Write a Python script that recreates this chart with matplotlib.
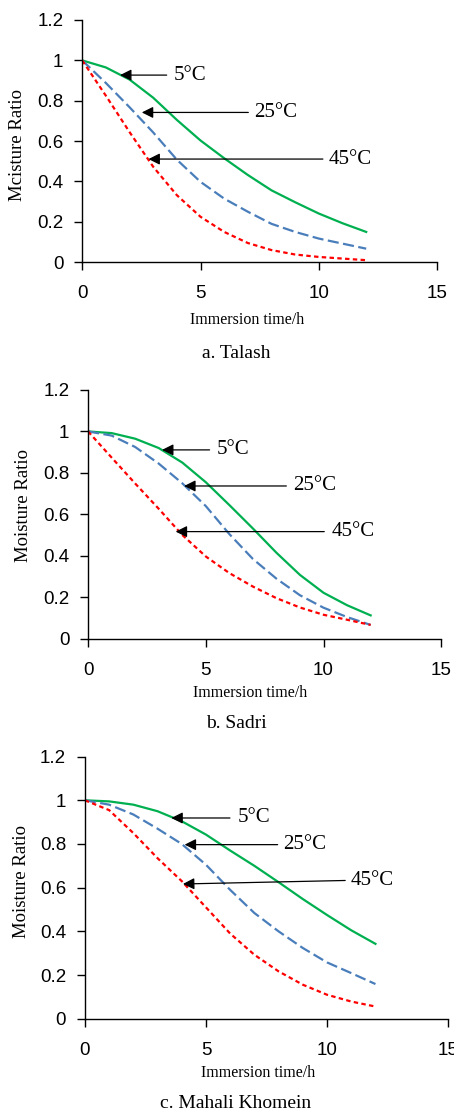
import matplotlib
matplotlib.use('Agg')
import matplotlib.pyplot as plt

# immersion time (h)
hours = [0, 1, 2, 3, 4, 5, 6, 7, 8, 9, 10, 11, 12]

# a. Talash
talash_5 = [1.0, 0.965, 0.905, 0.815, 0.705, 0.603, 0.515, 0.432, 0.356, 0.297, 0.241, 0.193, 0.15]
talash_25 = [1.0, 0.888, 0.768, 0.643, 0.508, 0.398, 0.315, 0.25, 0.19, 0.15, 0.117, 0.092, 0.067]
talash_45 = [1.0, 0.825, 0.645, 0.473, 0.332, 0.225, 0.15, 0.095, 0.06, 0.038, 0.026, 0.018, 0.01]

# b. Sadri
sadri_5 = [1.0, 0.992, 0.965, 0.92, 0.85, 0.755, 0.645, 0.532, 0.415, 0.308, 0.222, 0.162, 0.113]
sadri_25 = [1.0, 0.98, 0.925, 0.845, 0.75, 0.64, 0.505, 0.385, 0.29, 0.21, 0.15, 0.105, 0.067]
sadri_45 = [1.0, 0.874, 0.749, 0.627, 0.501, 0.397, 0.317, 0.252, 0.196, 0.151, 0.116, 0.092, 0.067]

# c. Mahali Khomein
mahali_5 = [1.0, 0.995, 0.98, 0.95, 0.904, 0.843, 0.77, 0.70, 0.625, 0.548, 0.475, 0.405, 0.343]
mahali_25 = [1.0, 0.98, 0.935, 0.87, 0.80, 0.705, 0.59, 0.484, 0.4, 0.324, 0.258, 0.209, 0.159]
mahali_45 = [1.0, 0.955, 0.85, 0.735, 0.63, 0.51, 0.39, 0.293, 0.217, 0.156, 0.11, 0.079, 0.056]

temps = ['5°C', '25°C', '45°C']
ytick_vals = [0, 0.2, 0.4, 0.6, 0.8, 1.0, 1.2]
ytick_labels = ['0', '0.2', '0.4', '0.6', '0.8', '1', '1.2']
xtick_vals = [0, 5, 10, 15]

serif = 'Liberation Serif'
sans = 'Liberation Sans'

fig = plt.figure(figsize=(4.54, 11.11), dpi=100)

panels = [
    dict(rect=[0.181, 0.764, 0.782, 0.218], data=(talash_5, talash_25, talash_45),
         ylabel='Mcisture Ratio', ylab=(-0.158, 0.483), xlab=(0.465, -0.207),
         caption='a. Talash', cap_y=1 - 353 / 1111,
         # (tip x, tip y, tail x, tail y, text x)
         arrows=[(1.6, 0.927, 3.57, 0.927, 3.85),
                 (2.52, 0.742, 7.02, 0.742, 7.26),
                 (2.8, 0.511, 10.17, 0.511, 10.41)]),
    dict(rect=[0.194, 0.425, 0.778, 0.224], data=(sadri_5, sadri_25, sadri_45),
         ylabel='Moisture Ratio', ylab=(-0.159, 0.534), xlab=(0.459, -0.185),
         caption='b. Sadri', cap_y=1 - 723 / 1111,
         arrows=[(3.14, 0.911, 5.16, 0.911, 5.48),
                 (4.08, 0.737, 8.42, 0.737, 8.7),
                 (3.72, 0.517, 10.03, 0.517, 10.36)]),
    dict(rect=[0.187, 0.083, 0.80, 0.236], data=(mahali_5, mahali_25, mahali_45),
         ylabel='Moisture Ratio', ylab=(-0.152, 0.523), xlab=(0.477, -0.176),
         caption='c. Mahali Khomein', cap_y=1 - 1103 / 1111,
         arrows=[(3.57, 0.919, 5.99, 0.919, 6.33),
                 (4.12, 0.797, 7.96, 0.797, 8.2),
                 (4.05, 0.617, 10.75, 0.633, 10.98)]),
]

for p in panels:
    ax = fig.add_axes(p['rect'])
    s5, s25, s45 = p['data']
    ax.plot(hours, s5, color='#00b050', lw=1.6, ls='-')
    ax.plot(hours, s25, color='#4a7ebb', lw=1.6, ls=(0, (5, 2)))
    ax.plot(hours, s45, color='#ff0000', lw=1.6, ls=(0, (2, 1.5)))

    ax.set_xlim(0, 15)
    ax.set_ylim(0, 1.2)
    ax.set_xticks(xtick_vals)
    ax.set_yticks(ytick_vals)
    ax.set_yticklabels(ytick_labels)
    for sp in ['top', 'right']:
        ax.spines[sp].set_visible(False)
    for sp in ['left', 'bottom']:
        ax.spines[sp].set_linewidth(1.0)
    ax.tick_params(axis='y', direction='out', length=5.5, width=1, pad=8, labelsize=13.5)
    ax.tick_params(axis='x', direction='out', length=5.5, width=1, pad=11, labelsize=13.5)
    for lab in ax.get_xticklabels() + ax.get_yticklabels():
        lab.set_fontfamily(sans)

    ax.set_ylabel(p['ylabel'], fontfamily=serif, fontsize=13.5)
    ax.yaxis.set_label_coords(*p['ylab'])
    ax.set_xlabel('Immersion time/h', fontfamily=serif, fontsize=11.5)
    ax.xaxis.set_label_coords(*p['xlab'])

    for (tx, ty, lx, ly, txt_x), t in zip(p['arrows'], temps):
        ax.annotate('', xy=(tx, ty), xytext=(lx, ly),
                    arrowprops=dict(arrowstyle='-|>', color='black', lw=0.9,
                                    mutation_scale=17, shrinkA=0, shrinkB=0))
        ax.text(txt_x, ly, t, fontfamily=serif, fontsize=15, va='center', ha='left')

    fig.text(236 / 454, p['cap_y'], p['caption'], fontfamily=serif, fontsize=14,
             ha='center', va='center')

fig.savefig('out.png', dpi=100)
